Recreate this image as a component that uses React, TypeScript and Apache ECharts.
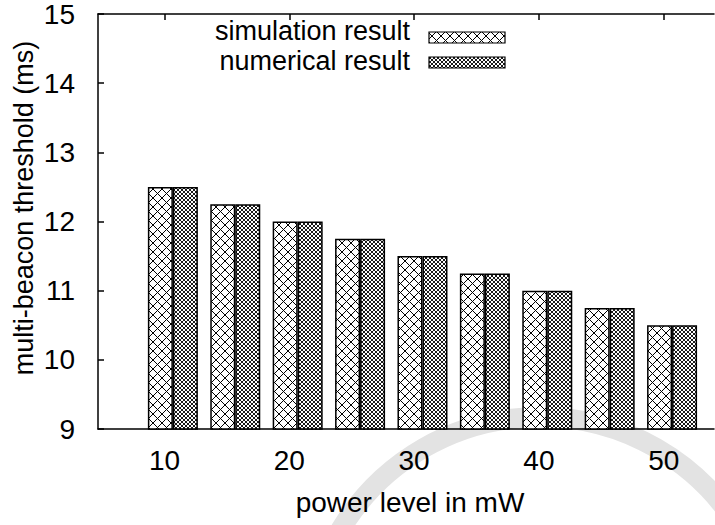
import React, { useEffect, useRef } from "react";
import * as echarts from "echarts";

const powerLevels = [10, 15, 20, 25, 30, 35, 40, 45, 50];
const simulationResult = [12.5, 12.25, 12.0, 11.75, 11.5, 11.25, 11.0, 10.75, 10.5];
const numericalResult = [12.5, 12.25, 12.0, 11.75, 11.5, 11.25, 11.0, 10.75, 10.5];
const xTickLabels = [10, 20, 30, 40, 50];
const seriesNames = ["simulation result", "numerical result"];
const xAxisTitle = "power level in mW";
const yAxisTitle = "multi-beacon threshold (ms)";

const FONT = "'Liberation Sans', Arial, Helvetica, sans-serif";

function makePattern(P: number, lw: number) {
  const c = document.createElement("canvas");
  c.width = P;
  c.height = P;
  const ctx = c.getContext("2d")!;
  ctx.fillStyle = "#ffffff";
  ctx.fillRect(0, 0, P, P);
  ctx.strokeStyle = "#000000";
  ctx.lineWidth = lw;
  ctx.beginPath();
  for (let k = -1; k <= 1; k++) {
    ctx.moveTo(k * P - 1, -1);
    ctx.lineTo(k * P + P + 1, P + 1);
    ctx.moveTo(k * P + P + 1, -1);
    ctx.lineTo(k * P - 1, P + 1);
  }
  ctx.stroke();
  return {
    image: c.toDataURL(),
    repeat: "repeat",
    imageWidth: P,
    imageHeight: P,
  } as any;
}

export default function App() {
  const ref = useRef<HTMLDivElement>(null);
  useEffect(() => {
    if (!ref.current) return;
    const chart = echarts.init(ref.current, null, { renderer: "svg" });
    const patA = makePattern(9, 1);
    const patB = makePattern(4, 0.9);
    const patA2 = makePattern(9, 1);
    const patB2 = makePattern(4, 0.9);

    const xMin = 4;
    const xMax = 53.36;
    const labelShift = 0.67;
    const axisColor = "#000000";

    const option: any = {
      animation: false,
      backgroundColor: "#ffffff",
      textStyle: { fontFamily: FONT },
      grid: { left: 98, top: 14, right: 1, bottom: 96, containLabel: false },
      xAxis: [
        {
          type: "value",
          min: xMin,
          max: xMax,
          position: "bottom",
          axisLine: { show: true, lineStyle: { color: axisColor, width: 1.5 } },
          axisTick: { show: false },
          axisLabel: { show: false },
          splitLine: { show: false },
        },
        {
          type: "value",
          min: xMin + labelShift,
          max: xMax + labelShift,
          position: "bottom",
          axisLine: { show: false },
          axisTick: { show: false },
          splitLine: { show: false },
          axisLabel: {
            show: true,
            customValues: xTickLabels,
            fontSize: 28,
            color: "#000000",
            fontFamily: FONT,
            margin: 17,
          },
        },
        {
          type: "value",
          min: xMin + labelShift,
          max: xMax + labelShift,
          position: "top",
          axisLine: { show: true, lineStyle: { color: axisColor, width: 1.5 } },
          axisTick: {
            show: true,
            inside: true,
            length: 6,
            customValues: xTickLabels,
            lineStyle: { color: axisColor, width: 1.5 },
          },
          axisLabel: { show: false },
          splitLine: { show: false },
        },
      ],
      yAxis: {
        type: "value",
        min: 9,
        max: 15,
        interval: 1,
        axisLine: { show: true, lineStyle: { color: axisColor, width: 1.5 } },
        axisTick: { show: true, inside: true, length: 6, lineStyle: { color: axisColor, width: 1.5 } },
        axisLabel: { fontSize: 28, color: "#000000", fontFamily: FONT, margin: 23 },
        splitLine: { show: false },
      },
      series: [
        {
          name: seriesNames[0],
          type: "bar",
          xAxisIndex: 0,
          barWidth: 25,
          barGap: "0%",
          data: powerLevels.map((p, i) => [p, simulationResult[i]]),
          itemStyle: { color: patA, borderColor: "#000000", borderWidth: 1.5 },
        },
        {
          name: seriesNames[1],
          type: "bar",
          xAxisIndex: 0,
          barWidth: 25,
          barGap: "0%",
          data: powerLevels.map((p, i) => [p, numericalResult[i]]),
          itemStyle: { color: patB, borderColor: "#000000", borderWidth: 1.5 },
        },
      ],
      graphic: [
        {
          type: "circle",
          z: -10,
          silent: true,
          shape: { cx: 540, cy: 650, r: 233 },
          style: { fill: "none", stroke: "#e3e3e3", lineWidth: 20 },
        },
        {
          type: "text",
          x: 410,
          y: 31,
          style: {
            text: seriesNames[0],
            font: `27px ${FONT}`,
            fill: "#000000",
            textAlign: "right",
            textVerticalAlign: "middle",
          },
        },
        {
          type: "rect",
          shape: { x: 429, y: 32, width: 76, height: 11 },
          style: { fill: patA2, stroke: "#000000", lineWidth: 1.2 },
        },
        {
          type: "text",
          x: 410,
          y: 61,
          style: {
            text: seriesNames[1],
            font: `27px ${FONT}`,
            fill: "#000000",
            textAlign: "right",
            textVerticalAlign: "middle",
          },
        },
        {
          type: "rect",
          shape: { x: 429, y: 57, width: 76, height: 11 },
          style: { fill: patB2, stroke: "#000000", lineWidth: 1.2 },
        },
        {
          type: "text",
          x: 410,
          y: 502,
          style: {
            text: xAxisTitle,
            font: `28px ${FONT}`,
            fill: "#000000",
            textAlign: "center",
            textVerticalAlign: "middle",
          },
        },
        {
          type: "text",
          x: 24,
          y: 208,
          rotation: Math.PI / 2,
          style: {
            text: yAxisTitle,
            font: `27px ${FONT}`,
            fill: "#000000",
            textAlign: "center",
            textVerticalAlign: "middle",
          },
        },
      ],
    };
    chart.setOption(option);
    return () => chart.dispose();
  }, []);
  return (
    <div
      ref={ref}
      style={{ position: "fixed", left: 0, top: 0, width: 715, height: 525, background: "#fff" }}
    />
  );
}
